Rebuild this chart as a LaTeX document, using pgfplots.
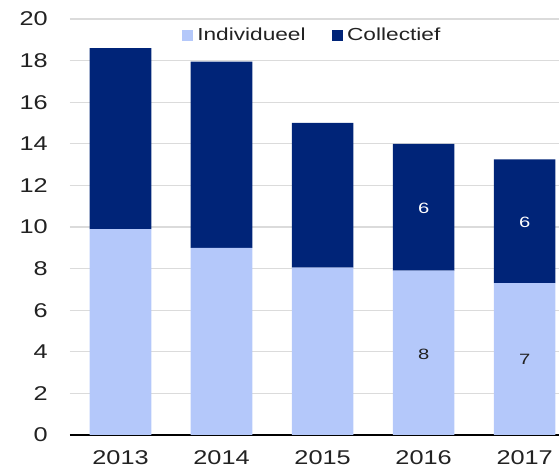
\documentclass[border=0pt]{standalone}
\usepackage{fontspec}
\setmainfont{Liberation Sans}
\usepackage{graphicx}
\usepackage{pgfplots}
\pgfplotsset{compat=1.18}

\definecolor{indiv}{RGB}{180,200,250}
\definecolor{coll}{RGB}{0,36,120}
\definecolor{txt}{RGB}{34,34,34}
% the reference text is stretched sideways
\newcommand{\wide}[1]{\scalebox{1.27}[1]{#1}}
\newcommand{\wideL}[1]{\scalebox{1.3}[1]{#1}}
\newcommand{\wideN}[1]{\scalebox{1.35}[1]{#1}}
\pgfplotsset{sqlegend/.style={legend image code/.code={\fill[##1] (0bp,-5.5bp) rectangle (11bp,5.5bp);}}}

\begin{document}
\begin{tikzpicture}
\begin{axis}[
  name=ax,
  scale only axis, width=489bp, height=416bp,
  ybar stacked, bar width=0.61,
  xmin=-0.5, xmax=4.34, ymin=0, ymax=20,
  xtick={0,1,2,3,4},
  xticklabels={\wide{2013},\wide{2014},\wide{2015},\wide{2016},\wide{2017}},
  ytick={0,2,...,20},
  yticklabel={\wide{\pgfmathprintnumber[assume math mode=true]{\tick}}},
  major tick length=0pt,
  tick label style={font=\fontsize{20}{24}\selectfont, text=txt, inner sep=0pt},
  xticklabel style={anchor=north, yshift=-15bp},
  yticklabel style={anchor=east, xshift=-22bp},
  ymajorgrids, grid style={color=gray!28, line width=1.3bp},
  axis x line*=bottom, axis y line*=left,
  y axis line style={draw=none},
  x axis line style={black, line width=2bp},
  legend columns=2,
  legend style={at={(0.495,0.9615)}, anchor=center, draw=none, fill=none,
    font=\fontsize{17.5}{20}\selectfont, text=txt,
    /tikz/every odd column/.append style={column sep=2.5bp},
    /tikz/every even column/.append style={column sep=24bp}},
]
\addplot[fill=indiv, draw=none, sqlegend] coordinates {(0,9.9) (1,9.0) (2,8.05) (3,7.9) (4,7.3)};
\addlegendentry{\wideL{Individueel}}
\addplot[fill=coll, draw=none, sqlegend] coordinates {(0,8.7) (1,8.95) (2,6.95) (3,6.1) (4,5.95)};
\addlegendentry{\wideL{Collectief}}
\end{axis}

% data labels, only on 2016 and 2017
\begin{axis}[
  scale only axis, width=489bp, height=416bp,
  xmin=-0.5, xmax=4.34, ymin=0, ymax=20,
  hide axis, clip=false,
  nodes near coords={\wideN{\pgfplotspointmeta}},
  nodes near coords align=center,
  point meta=explicit symbolic,
]
\addplot[draw=none, mark=none, every node near coord/.append style={font=\fontsize{15}{17}\selectfont, text=white}]
  coordinates {(3,10.88)[6] (4,10.24)[6]};
\addplot[draw=none, mark=none, every node near coord/.append style={font=\fontsize{15}{17}\selectfont, text=txt}]
  coordinates {(3,3.89)[8] (4,3.65)[7]};
\end{axis}

\pgfresetboundingbox
\path ([shift={(-70bp,-35bp)}]ax.south west) rectangle ([yshift=19bp]ax.north east);
\end{tikzpicture}
\end{document}
